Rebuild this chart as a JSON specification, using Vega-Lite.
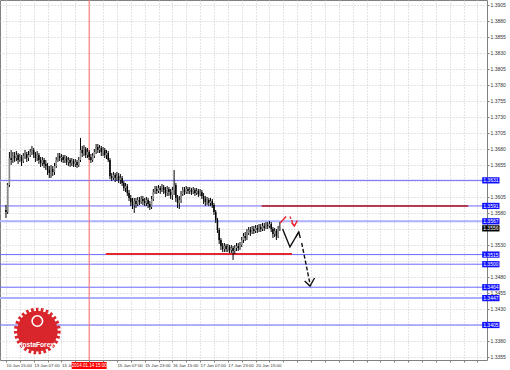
{
"$schema": "https://vega.github.io/schema/vega-lite/v6.json",
"width": 487, "height": 360,
"autosize": {"type": "none"},
"padding": {"left": 0, "top": 0, "right": 23, "bottom": 10},
"background": "white",
"config": {"view": {"stroke": "#808080", "strokeWidth": 1}, "font": "Liberation Sans", "axis": {"labelOverlap": false, "labelSeparation": 0, "labelBound": false}},
"datasets": {
"candles": [
{"i":0,"o":1.35847,"c":1.35816,"h":1.35925,"l":1.35722},
{"i":1,"o":1.35816,"c":1.36237,"h":1.36269,"l":1.35784},
{"i":2,"o":1.36237,"c":1.36659,"h":1.36753,"l":1.36206},
{"i":3,"o":1.36659,"c":1.36628,"h":1.36784,"l":1.36550},
{"i":4,"o":1.36628,"c":1.36691,"h":1.36753,"l":1.36581},
{"i":5,"o":1.36691,"c":1.36659,"h":1.36753,"l":1.36597},
{"i":6,"o":1.36659,"c":1.36706,"h":1.36769,"l":1.36612},
{"i":7,"o":1.36706,"c":1.36628,"h":1.36737,"l":1.36566},
{"i":8,"o":1.36628,"c":1.36675,"h":1.36722,"l":1.36597},
{"i":9,"o":1.36675,"c":1.36612,"h":1.36706,"l":1.36534},
{"i":10,"o":1.36612,"c":1.36691,"h":1.36737,"l":1.36581},
{"i":11,"o":1.36691,"c":1.36722,"h":1.36784,"l":1.36644},
{"i":12,"o":1.36722,"c":1.36659,"h":1.36753,"l":1.36597},
{"i":13,"o":1.36659,"c":1.36706,"h":1.36769,"l":1.36612},
{"i":14,"o":1.36706,"c":1.36753,"h":1.36800,"l":1.36675},
{"i":15,"o":1.36753,"c":1.36784,"h":1.36847,"l":1.36706},
{"i":16,"o":1.36784,"c":1.36722,"h":1.36816,"l":1.36659},
{"i":17,"o":1.36722,"c":1.36659,"h":1.36753,"l":1.36597},
{"i":18,"o":1.36659,"c":1.36706,"h":1.36769,"l":1.36612},
{"i":19,"o":1.36706,"c":1.36628,"h":1.36737,"l":1.36566},
{"i":20,"o":1.36628,"c":1.36581,"h":1.36675,"l":1.36519},
{"i":21,"o":1.36581,"c":1.36628,"h":1.36675,"l":1.36534},
{"i":22,"o":1.36628,"c":1.36566,"h":1.36659,"l":1.36503},
{"i":23,"o":1.36566,"c":1.36534,"h":1.36628,"l":1.36472},
{"i":24,"o":1.36534,"c":1.36472,"h":1.36581,"l":1.36394},
{"i":25,"o":1.36472,"c":1.36425,"h":1.36534,"l":1.36347},
{"i":26,"o":1.36425,"c":1.36487,"h":1.36550,"l":1.36347},
{"i":27,"o":1.36487,"c":1.36441,"h":1.36534,"l":1.36378},
{"i":28,"o":1.36441,"c":1.36534,"h":1.36581,"l":1.36394},
{"i":29,"o":1.36534,"c":1.36628,"h":1.36675,"l":1.36503},
{"i":30,"o":1.36628,"c":1.36691,"h":1.36737,"l":1.36597},
{"i":31,"o":1.36691,"c":1.36659,"h":1.36737,"l":1.36612},
{"i":32,"o":1.36659,"c":1.36675,"h":1.36722,"l":1.36597},
{"i":33,"o":1.36675,"c":1.36628,"h":1.36706,"l":1.36581},
{"i":34,"o":1.36628,"c":1.36659,"h":1.36706,"l":1.36581},
{"i":35,"o":1.36659,"c":1.36597,"h":1.36691,"l":1.36550},
{"i":36,"o":1.36597,"c":1.36628,"h":1.36675,"l":1.36534},
{"i":37,"o":1.36628,"c":1.36581,"h":1.36659,"l":1.36519},
{"i":38,"o":1.36581,"c":1.36612,"h":1.36659,"l":1.36534},
{"i":39,"o":1.36612,"c":1.36566,"h":1.36644,"l":1.36519},
{"i":40,"o":1.36566,"c":1.36597,"h":1.36644,"l":1.36519},
{"i":41,"o":1.36597,"c":1.36550,"h":1.36628,"l":1.36503},
{"i":42,"o":1.36550,"c":1.36628,"h":1.36675,"l":1.36519},
{"i":43,"o":1.36628,"c":1.36784,"h":1.36972,"l":1.36597},
{"i":44,"o":1.36784,"c":1.36737,"h":1.36847,"l":1.36675},
{"i":45,"o":1.36737,"c":1.36800,"h":1.36862,"l":1.36691},
{"i":46,"o":1.36800,"c":1.36706,"h":1.36831,"l":1.36659},
{"i":47,"o":1.36706,"c":1.36753,"h":1.36816,"l":1.36659},
{"i":48,"o":1.36753,"c":1.36675,"h":1.36784,"l":1.36628},
{"i":49,"o":1.36675,"c":1.36628,"h":1.36722,"l":1.36581},
{"i":50,"o":1.36628,"c":1.36691,"h":1.36737,"l":1.36597},
{"i":51,"o":1.36691,"c":1.36753,"h":1.36800,"l":1.36659},
{"i":52,"o":1.36753,"c":1.36831,"h":1.36878,"l":1.36722},
{"i":53,"o":1.36831,"c":1.36784,"h":1.36878,"l":1.36737},
{"i":54,"o":1.36784,"c":1.36816,"h":1.36862,"l":1.36737},
{"i":55,"o":1.36816,"c":1.36753,"h":1.36847,"l":1.36691},
{"i":56,"o":1.36753,"c":1.36784,"h":1.36831,"l":1.36691},
{"i":57,"o":1.36784,"c":1.36706,"h":1.36816,"l":1.36659},
{"i":58,"o":1.36706,"c":1.36737,"h":1.36784,"l":1.36644},
{"i":59,"o":1.36737,"c":1.36628,"h":1.36769,"l":1.36597},
{"i":60,"o":1.36628,"c":1.36378,"h":1.36659,"l":1.36331},
{"i":61,"o":1.36378,"c":1.36347,"h":1.36425,"l":1.36300},
{"i":62,"o":1.36347,"c":1.36394,"h":1.36441,"l":1.36316},
{"i":63,"o":1.36394,"c":1.36347,"h":1.36425,"l":1.36284},
{"i":64,"o":1.36347,"c":1.36378,"h":1.36441,"l":1.36300},
{"i":65,"o":1.36378,"c":1.36316,"h":1.36425,"l":1.36269},
{"i":66,"o":1.36316,"c":1.36347,"h":1.36409,"l":1.36253},
{"i":67,"o":1.36347,"c":1.36269,"h":1.36378,"l":1.36222},
{"i":68,"o":1.36269,"c":1.36191,"h":1.36300,"l":1.36144},
{"i":69,"o":1.36191,"c":1.36222,"h":1.36269,"l":1.36128},
{"i":70,"o":1.36222,"c":1.36112,"h":1.36253,"l":1.36066},
{"i":71,"o":1.36112,"c":1.36034,"h":1.36159,"l":1.35987},
{"i":72,"o":1.36034,"c":1.35972,"h":1.36081,"l":1.35909},
{"i":73,"o":1.35972,"c":1.35925,"h":1.36034,"l":1.35862},
{"i":74,"o":1.35925,"c":1.35987,"h":1.36034,"l":1.35800},
{"i":75,"o":1.35987,"c":1.35941,"h":1.36034,"l":1.35878},
{"i":76,"o":1.35941,"c":1.36003,"h":1.36050,"l":1.35909},
{"i":77,"o":1.36003,"c":1.35972,"h":1.36050,"l":1.35925},
{"i":78,"o":1.35972,"c":1.36019,"h":1.36066,"l":1.35941},
{"i":79,"o":1.36019,"c":1.35987,"h":1.36066,"l":1.35925},
{"i":80,"o":1.35987,"c":1.35956,"h":1.36034,"l":1.35909},
{"i":81,"o":1.35956,"c":1.36003,"h":1.36050,"l":1.35909},
{"i":82,"o":1.36003,"c":1.35941,"h":1.36034,"l":1.35878},
{"i":83,"o":1.35941,"c":1.35894,"h":1.35987,"l":1.35847},
{"i":84,"o":1.35894,"c":1.36019,"h":1.36066,"l":1.35862},
{"i":85,"o":1.36019,"c":1.36128,"h":1.36175,"l":1.35987},
{"i":86,"o":1.36128,"c":1.36175,"h":1.36222,"l":1.36097},
{"i":87,"o":1.36175,"c":1.36144,"h":1.36222,"l":1.36097},
{"i":88,"o":1.36144,"c":1.36191,"h":1.36237,"l":1.36112},
{"i":89,"o":1.36191,"c":1.36159,"h":1.36222,"l":1.36097},
{"i":90,"o":1.36159,"c":1.36206,"h":1.36253,"l":1.36128},
{"i":91,"o":1.36206,"c":1.36159,"h":1.36237,"l":1.36097},
{"i":92,"o":1.36159,"c":1.36112,"h":1.36206,"l":1.36050},
{"i":93,"o":1.36112,"c":1.36175,"h":1.36222,"l":1.36066},
{"i":94,"o":1.36175,"c":1.36128,"h":1.36206,"l":1.36066},
{"i":95,"o":1.36128,"c":1.36081,"h":1.36175,"l":1.36019},
{"i":96,"o":1.36081,"c":1.36159,"h":1.36206,"l":1.36003},
{"i":97,"o":1.36159,"c":1.36237,"h":1.36472,"l":1.36081},
{"i":98,"o":1.36237,"c":1.36034,"h":1.36269,"l":1.35972},
{"i":99,"o":1.36034,"c":1.35956,"h":1.36081,"l":1.35878},
{"i":100,"o":1.35956,"c":1.36003,"h":1.36066,"l":1.35862},
{"i":101,"o":1.36003,"c":1.36097,"h":1.36144,"l":1.35956},
{"i":102,"o":1.36097,"c":1.36159,"h":1.36206,"l":1.36066},
{"i":103,"o":1.36159,"c":1.36128,"h":1.36206,"l":1.36081},
{"i":104,"o":1.36128,"c":1.36175,"h":1.36222,"l":1.36097},
{"i":105,"o":1.36175,"c":1.36144,"h":1.36206,"l":1.36097},
{"i":106,"o":1.36144,"c":1.36159,"h":1.36206,"l":1.36097},
{"i":107,"o":1.36159,"c":1.36128,"h":1.36191,"l":1.36081},
{"i":108,"o":1.36128,"c":1.36159,"h":1.36206,"l":1.36097},
{"i":109,"o":1.36159,"c":1.36112,"h":1.36191,"l":1.36066},
{"i":110,"o":1.36112,"c":1.36144,"h":1.36191,"l":1.36081},
{"i":111,"o":1.36144,"c":1.36097,"h":1.36175,"l":1.36050},
{"i":112,"o":1.36097,"c":1.36128,"h":1.36175,"l":1.36066},
{"i":113,"o":1.36128,"c":1.36066,"h":1.36159,"l":1.36019},
{"i":114,"o":1.36066,"c":1.36019,"h":1.36112,"l":1.35941},
{"i":115,"o":1.36019,"c":1.35972,"h":1.36066,"l":1.35909},
{"i":116,"o":1.35972,"c":1.36003,"h":1.36050,"l":1.35925},
{"i":117,"o":1.36003,"c":1.35956,"h":1.36034,"l":1.35909},
{"i":118,"o":1.35956,"c":1.35987,"h":1.36034,"l":1.35909},
{"i":119,"o":1.35987,"c":1.35925,"h":1.36019,"l":1.35878},
{"i":120,"o":1.35925,"c":1.35816,"h":1.35956,"l":1.35769},
{"i":121,"o":1.35816,"c":1.35691,"h":1.35847,"l":1.35644},
{"i":122,"o":1.35691,"c":1.35534,"h":1.35722,"l":1.35487},
{"i":123,"o":1.35534,"c":1.35378,"h":1.35566,"l":1.35316},
{"i":124,"o":1.35378,"c":1.35284,"h":1.35409,"l":1.35222},
{"i":125,"o":1.35284,"c":1.35237,"h":1.35331,"l":1.35191},
{"i":126,"o":1.35237,"c":1.35284,"h":1.35331,"l":1.35191},
{"i":127,"o":1.35284,"c":1.35237,"h":1.35316,"l":1.35191},
{"i":128,"o":1.35237,"c":1.35269,"h":1.35316,"l":1.35191},
{"i":129,"o":1.35269,"c":1.35222,"h":1.35300,"l":1.35175},
{"i":130,"o":1.35222,"c":1.35253,"h":1.35300,"l":1.35175},
{"i":131,"o":1.35253,"c":1.35206,"h":1.35284,"l":1.35066},
{"i":132,"o":1.35206,"c":1.35253,"h":1.35300,"l":1.35159},
{"i":133,"o":1.35253,"c":1.35284,"h":1.35331,"l":1.35206},
{"i":134,"o":1.35284,"c":1.35253,"h":1.35331,"l":1.35206},
{"i":135,"o":1.35253,"c":1.35300,"h":1.35347,"l":1.35222},
{"i":136,"o":1.35300,"c":1.35378,"h":1.35425,"l":1.35269},
{"i":137,"o":1.35378,"c":1.35441,"h":1.35487,"l":1.35331},
{"i":138,"o":1.35441,"c":1.35409,"h":1.35503,"l":1.35362},
{"i":139,"o":1.35409,"c":1.35487,"h":1.35550,"l":1.35378},
{"i":140,"o":1.35487,"c":1.35534,"h":1.35581,"l":1.35456},
{"i":141,"o":1.35534,"c":1.35503,"h":1.35581,"l":1.35441},
{"i":142,"o":1.35503,"c":1.35550,"h":1.35597,"l":1.35472},
{"i":143,"o":1.35550,"c":1.35519,"h":1.35597,"l":1.35472},
{"i":144,"o":1.35519,"c":1.35566,"h":1.35612,"l":1.35487},
{"i":145,"o":1.35566,"c":1.35534,"h":1.35612,"l":1.35487},
{"i":146,"o":1.35534,"c":1.35581,"h":1.35628,"l":1.35503},
{"i":147,"o":1.35581,"c":1.35550,"h":1.35628,"l":1.35503},
{"i":148,"o":1.35550,"c":1.35597,"h":1.35644,"l":1.35519},
{"i":149,"o":1.35597,"c":1.35566,"h":1.35644,"l":1.35519},
{"i":150,"o":1.35566,"c":1.35612,"h":1.35659,"l":1.35550},
{"i":151,"o":1.35612,"c":1.35597,"h":1.35659,"l":1.35550},
{"i":152,"o":1.35597,"c":1.35628,"h":1.35675,"l":1.35566},
{"i":153,"o":1.35628,"c":1.35550,"h":1.35659,"l":1.35503},
{"i":154,"o":1.35550,"c":1.35472,"h":1.35581,"l":1.35409},
{"i":155,"o":1.35472,"c":1.35519,"h":1.35566,"l":1.35425},
{"i":156,"o":1.35519,"c":1.35441,"h":1.35550,"l":1.35378},
{"i":157,"o":1.35441,"c":1.35550,"h":1.35597,"l":1.35409},
{"i":158,"o":1.35550,"c":1.35560,"h":1.35659,"l":1.35519}
],
"levels": [
{"p":1.3631,"kind":"thin"},{"p":1.3591,"kind":"thin"},{"p":1.3567,"kind":"thick"},{"p":1.3515,"kind":"thin"},
{"p":1.3500,"kind":"thin"},{"p":1.3464,"kind":"thin"},{"p":1.3447,"kind":"thick"},{"p":1.3405,"kind":"thin"}
],
"redlines": [
{"i1":147.5,"i2":266.7,"p":1.3591,"kind":"upper"},
{"i1":57.6,"i2":165.0,"p":1.3516,"kind":"lower"}
],
"vline": [{"i":48}],
"arrows": [
{"seg":"r1","k":0,"i":158.2,"p":1.35644},{"seg":"r1","k":1,"i":161.6,"p":1.35745},
{"seg":"r2","k":0,"i":163.8,"p":1.35745},{"seg":"r2","k":1,"i":166.4,"p":1.35597},
{"seg":"r3","k":0,"i":164.7,"p":1.35652},{"seg":"r3","k":1,"i":166.4,"p":1.35597},{"seg":"r3","k":2,"i":168.1,"p":1.35683},
{"seg":"b1","k":0,"i":159.6,"p":1.35550},{"seg":"b1","k":1,"i":163.8,"p":1.35269},{"seg":"b1","k":2,"i":168.9,"p":1.35503},
{"seg":"b2","k":0,"i":167.2,"p":1.35425},{"seg":"b2","k":1,"i":168.9,"p":1.35503},{"seg":"b2","k":2,"i":169.8,"p":1.35409},
{"seg":"b3","k":0,"i":170.6,"p":1.35331},{"seg":"b3","k":1,"i":175.4,"p":1.34690},
{"seg":"b4","k":0,"i":172.3,"p":1.34737},{"seg":"b4","k":1,"i":175.4,"p":1.34659},{"seg":"b4","k":2,"i":178.0,"p":1.34784}
],
"ptags": [
{"p":1.3631,"t":"1.3631","kind":"level"},{"p":1.3591,"t":"1.3591","kind":"level"},{"p":1.3567,"t":"1.3567","kind":"level"},
{"p":1.3556,"t":"1.3556","kind":"bid"},{"p":1.3515,"t":"1.3515","kind":"level"},{"p":1.3500,"t":"1.3500","kind":"level"},
{"p":1.3464,"t":"1.3464","kind":"level"},{"p":1.3447,"t":"1.3447","kind":"level"},{"p":1.3405,"t":"1.3405","kind":"level"}
],
"ttag": [{"i":48,"t":"2014.01.14 15:00"}],
"logo": [{"t":"InstaForex"}]
},
"layer": [
{"data":{"name":"levels"},"mark":{"type":"rule"},
 "encoding":{
  "y":{"field":"p","type":"quantitative","scale":{"domain":[1.33503,1.39128],"nice":false,"zero":false},
   "axis":{"orient":"right","tickCount":100,"values":[1.3355,1.338,1.3405,1.343,1.3455,1.348,1.3505,1.353,1.3555,1.358,1.3605,1.363,1.3655,1.368,1.3705,1.373,1.3755,1.378,1.3805,1.383,1.3855,1.388,1.3905],
    "labelExpr":"indexof(['1.3630','1.3555','1.3505','1.3405'], format(datum.value, '.4f')) >= 0 ? '' : format(datum.value, '.4f')",
    "title":null,"domain":false,"labelFont":"Liberation Sans","labelFontSize":5,"labelColor":"#333333","tickSize":2,"tickColor":"#808080","labelPadding":1,
    "grid":true,"gridColor":"#c8c8c8","gridDash":[1,2],"labelOverlap":false,"labelSeparation":0}},
  "color":{"condition":{"test":"datum.kind=='thick'","value":"#aab0ff"},"value":"#6a6aff"},
  "strokeWidth":{"condition":{"test":"datum.kind=='thick'","value":2},"value":1}
 }},
{"data":{"name":"vline"},"mark":{"type":"rule","color":"#ff6b6b","strokeWidth":1},
 "encoding":{"x":{"field":"i","type":"quantitative","scale":{"domain":[-0.55,274.6],"nice":false,"zero":false},
   "axis":{"orient":"bottom","tickCount":100,"values":[0,8,16,24,32,40,48,56,64,72,80,88,96,104,112,120,128,136,144,152,160,168,176,184,192,200,208,216,224,232,240,248,256,264,272],
    "labelExpr":"(datum.value % 16 == 0 && datum.value <= 144) ? ['10 Jan 15:00','13 Jan 07:00','13 Jan 23:00','','15 Jan 07:00','15 Jan 23:00','16 Jan 15:00','17 Jan 07:00','17 Jan 23:00','20 Jan 15:00'][datum.value/16] : ''",
    "title":null,"domain":false,"labelFont":"Liberation Sans","labelFontSize":4.4,"labelColor":"#333333","labelAlign":"left","tickSize":2,"tickColor":"#808080","labelPadding":1,
    "grid":true,"gridColor":"#c8c8c8","gridDash":[1,2],"labelOverlap":false,"labelSeparation":0}}}},
{"data":{"name":"redlines"},"mark":{"type":"rule"},
 "encoding":{
  "x":{"field":"i1","type":"quantitative","scale":{"domain":[-0.55,274.6],"nice":false,"zero":false},"axis":{"title":null}},
  "x2":{"field":"i2"},
  "y":{"field":"p","type":"quantitative","scale":{"domain":[1.33503,1.39128],"nice":false,"zero":false},"axis":{"title":null}},
  "color":{"condition":{"test":"datum.kind=='upper'","value":"#b3121a"},"value":"#e3262e"},
  "strokeWidth":{"condition":{"test":"datum.kind=='upper'","value":1.5},"value":2}
 }},
{"data":{"name":"candles"},"mark":{"type":"rule","color":"#000000","strokeWidth":1},
 "encoding":{
  "x":{"field":"i","type":"quantitative","scale":{"domain":[-0.55,274.6],"nice":false,"zero":false},"axis":{"title":null}},
  "y":{"field":"l","type":"quantitative","scale":{"domain":[1.33503,1.39128],"nice":false,"zero":false},"axis":{"title":null}},
  "y2":{"field":"h"}
 }},
{"data":{"name":"candles"},"mark":{"type":"bar","size":1.5},
 "encoding":{
  "x":{"field":"i","type":"quantitative","scale":{"domain":[-0.55,274.6],"nice":false,"zero":false},"axis":{"title":null}},
  "y":{"field":"o","type":"quantitative","scale":{"domain":[1.33503,1.39128],"nice":false,"zero":false},"axis":{"title":null}},
  "y2":{"field":"c"},
  "color":{"condition":{"test":"datum.c >= datum.o","value":"#8a8a8a"},"value":"#000000"}
 }},
{"data":{"name":"arrows"},"transform":[{"filter":"indexof(['r1','r3'], datum.seg) >= 0"}],
 "mark":{"type":"line","color":"#e8212b","strokeWidth":1.4},
 "encoding":{
  "x":{"field":"i","type":"quantitative","scale":{"domain":[-0.55,274.6],"nice":false,"zero":false},"axis":{"title":null}},
  "y":{"field":"p","type":"quantitative","scale":{"domain":[1.33503,1.39128],"nice":false,"zero":false},"axis":{"title":null}},
  "detail":{"field":"seg"},"order":{"field":"k"}}},
{"data":{"name":"arrows"},"transform":[{"filter":"datum.seg == 'r2'"}],
 "mark":{"type":"line","color":"#e8212b","strokeWidth":1.4,"strokeDash":[2.5,1.5]},
 "encoding":{
  "x":{"field":"i","type":"quantitative","scale":{"domain":[-0.55,274.6],"nice":false,"zero":false},"axis":{"title":null}},
  "y":{"field":"p","type":"quantitative","scale":{"domain":[1.33503,1.39128],"nice":false,"zero":false},"axis":{"title":null}},
  "detail":{"field":"seg"},"order":{"field":"k"}}},
{"data":{"name":"arrows"},"transform":[{"filter":"indexof(['b1','b2','b4'], datum.seg) >= 0"}],
 "mark":{"type":"line","color":"#111111","strokeWidth":1.4},
 "encoding":{
  "x":{"field":"i","type":"quantitative","scale":{"domain":[-0.55,274.6],"nice":false,"zero":false},"axis":{"title":null}},
  "y":{"field":"p","type":"quantitative","scale":{"domain":[1.33503,1.39128],"nice":false,"zero":false},"axis":{"title":null}},
  "detail":{"field":"seg"},"order":{"field":"k"}}},
{"data":{"name":"arrows"},"transform":[{"filter":"datum.seg == 'b3'"}],
 "mark":{"type":"line","color":"#111111","strokeWidth":1.4,"strokeDash":[4,2]},
 "encoding":{
  "x":{"field":"i","type":"quantitative","scale":{"domain":[-0.55,274.6],"nice":false,"zero":false},"axis":{"title":null}},
  "y":{"field":"p","type":"quantitative","scale":{"domain":[1.33503,1.39128],"nice":false,"zero":false},"axis":{"title":null}},
  "detail":{"field":"seg"},"order":{"field":"k"}}},
{"data":{"name":"ptags"},"mark":{"type":"point","shape":"M-1,-0.36H1V0.36H-1Z","size":300,"filled":true,"opacity":1,"strokeWidth":0},
 "encoding":{
  "x":{"datum":279.7,"type":"quantitative","scale":{"domain":[-0.55,274.6],"nice":false,"zero":false},"axis":{"title":null}},
  "y":{"field":"p","type":"quantitative","scale":{"domain":[1.33503,1.39128],"nice":false,"zero":false},"axis":{"title":null}},
  "color":{"condition":{"test":"datum.kind=='bid'","value":"#000000"},"value":"#1010ff"}}},
{"data":{"name":"ptags"},"mark":{"type":"text","color":"white","font":"Liberation Sans","fontSize":5,"align":"center","baseline":"middle"},
 "encoding":{
  "x":{"datum":279.7,"type":"quantitative","scale":{"domain":[-0.55,274.6],"nice":false,"zero":false},"axis":{"title":null}},
  "y":{"field":"p","type":"quantitative","scale":{"domain":[1.33503,1.39128],"nice":false,"zero":false},"axis":{"title":null}},
  "text":{"field":"t"}}},
{"data":{"name":"ttag"},"mark":{"type":"point","shape":"M-1,-0.2H1V0.2H-1Z","size":1225,"filled":true,"opacity":1,"color":"#ff0000","strokeWidth":0},
 "encoding":{
  "x":{"field":"i","type":"quantitative","scale":{"domain":[-0.55,274.6],"nice":false,"zero":false},"axis":{"title":null}},
  "y":{"datum":1.33417,"type":"quantitative","scale":{"domain":[1.33503,1.39128],"nice":false,"zero":false},"axis":{"title":null}}}},
{"data":{"name":"ttag"},"mark":{"type":"text","color":"white","font":"Liberation Sans","fontSize":4.5,"align":"center","baseline":"middle"},
 "encoding":{
  "x":{"field":"i","type":"quantitative","scale":{"domain":[-0.55,274.6],"nice":false,"zero":false},"axis":{"title":null}},
  "y":{"datum":1.33417,"type":"quantitative","scale":{"domain":[1.33503,1.39128],"nice":false,"zero":false},"axis":{"title":null}},
  "text":{"field":"t"}}},
{"data":{"name":"logo"},"mark":{"type":"point","shape":"circle","size":1660,"filled":true,"opacity":1,"color":"#d8262c","stroke":"#d8262c","strokeWidth":6,"strokeDash":[2.5,2.2]},
 "encoding":{
  "x":{"datum":18.1,"type":"quantitative","scale":{"domain":[-0.55,274.6],"nice":false,"zero":false},"axis":{"title":null}},
  "y":{"datum":1.33956,"type":"quantitative","scale":{"domain":[1.33503,1.39128],"nice":false,"zero":false},"axis":{"title":null}}}},
{"data":{"name":"logo"},"mark":{"type":"point","shape":"circle","size":110,"filled":false,"opacity":1,"color":"white","strokeWidth":1.6},
 "encoding":{
  "x":{"datum":18.1,"type":"quantitative","scale":{"domain":[-0.55,274.6],"nice":false,"zero":false},"axis":{"title":null}},
  "y":{"datum":1.34112,"type":"quantitative","scale":{"domain":[1.33503,1.39128],"nice":false,"zero":false},"axis":{"title":null}}}},
{"data":{"name":"logo"},"mark":{"type":"text","color":"white","font":"Liberation Sans","fontSize":6.6,"fontWeight":"bold","align":"center","baseline":"middle"},
 "encoding":{
  "x":{"datum":18.1,"type":"quantitative","scale":{"domain":[-0.55,274.6],"nice":false,"zero":false},"axis":{"title":null}},
  "y":{"datum":1.33737,"type":"quantitative","scale":{"domain":[1.33503,1.39128],"nice":false,"zero":false},"axis":{"title":null}},
  "text":{"field":"t"}}}
]
}
